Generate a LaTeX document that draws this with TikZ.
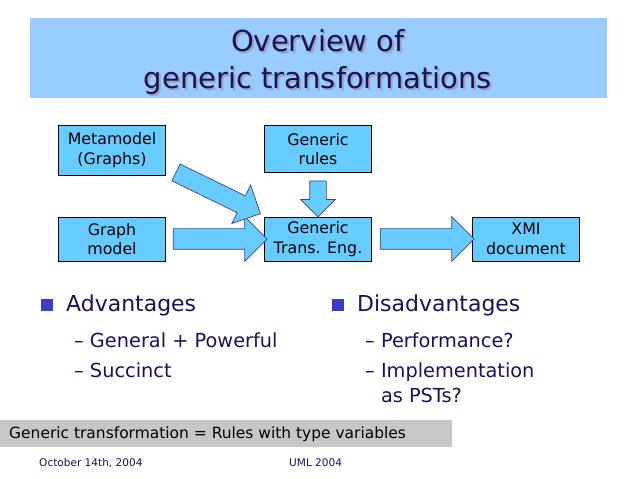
\documentclass[tikz,border=0pt]{standalone}
\usepackage{fontspec}
\setmainfont{DejaVu Sans}
\usetikzlibrary{shapes.arrows,calc}
\definecolor{titlebg}{RGB}{153,204,255}
\definecolor{boxbg}{RGB}{102,204,255}
\definecolor{navy}{RGB}{20,20,90}
\definecolor{bulletblue}{RGB}{60,60,200}
\newlength{\unitpx}\setlength{\unitpx}{0.02cm}
\tikzset{
  blockbox/.style={draw=black,fill=boxbg,minimum width=107\unitpx,minimum height=44\unitpx,align=center,font=\fontsize{9}{11}\selectfont,inner sep=1pt},
  blockarrow/.style={single arrow,draw=navy!80,fill=boxbg,single arrow head extend=12\unitpx,minimum height=#1,inner xsep=0pt,inner ysep=10\unitpx,single arrow head indent=0pt},
}
\begin{document}
\begin{tikzpicture}[x=0.02cm,y=-0.02cm]
\useasboundingbox (0,0) rectangle (638,479);
% title
\fill[titlebg] (30,18) rectangle (607,98);
\node[navy!40,font=\fontsize{16.5}{21}\selectfont,align=center] at (320,64) {Overview of\\generic transformations};
\node[navy,font=\fontsize{16.5}{21}\selectfont,align=center] (title) at (318,62) {Overview of\\generic transformations};
% boxes
\node[blockbox,minimum height=50\unitpx] (meta) at (112,150) {Metamodel\\(Graphs)};
\node[blockbox,minimum height=47\unitpx] (rules) at (318,149) {Generic\\rules};
\node[blockbox] (graph) at (112,239) {Graph\\model};
\node[blockbox] (eng) at (318,239) {Generic\\Trans. Eng.};
\node[blockbox] (xmi) at (526,239) {XMI\\document};
% arrows
\node[blockarrow=94\unitpx] (a1) at ($(graph.east)!0.5!(eng.west)$) {};
\node[blockarrow=94\unitpx] (a2) at ($(eng.east)!0.5!(xmi.west)$) {};
\node[blockarrow=36\unitpx,rotate=-90,inner ysep=8\unitpx,single arrow head extend=9\unitpx] (a3) at ($(rules.south)!0.5!(eng.north)$) {};
\node[blockarrow=94\unitpx,rotate=-26,inner ysep=9\unitpx] (a4) at (214,191) {};
% bullets
\fill[bulletblue] (41,299) rectangle (53,311);
\node[navy,anchor=west,font=\fontsize{12.5}{15}\selectfont] (adv) at (60,305) {Advantages};
\node[navy,anchor=west,font=\fontsize{11}{14}\selectfont] (adv1) at (68,340) {– General + Powerful};
\node[navy,anchor=west,font=\fontsize{11}{14}\selectfont] (adv2) at (68,370) {– Succinct};
\fill[bulletblue] (332,299) rectangle (344,311);
\node[navy,anchor=west,font=\fontsize{12.5}{15}\selectfont] (dis) at (351,305) {Disadvantages};
\node[navy,anchor=west,font=\fontsize{11}{14}\selectfont] (dis1) at (359,340) {– Performance?};
\node[navy,anchor=west,font=\fontsize{11}{14}\selectfont,align=left] (dis2) at (359,383) {– Implementation\\\phantom{– }as PSTs?};
% bottom bar
\fill[black!22] (0,420) rectangle (452,447);
\node[anchor=west,font=\fontsize{8.8}{11}\selectfont] (summary) at (3,434) {Generic transformation = Rules with type variables};
\node[navy,anchor=west,font=\fontsize{6}{8}\selectfont] (date) at (33,463) {October 14th, 2004};
\node[navy,anchor=west,font=\fontsize{6}{8}\selectfont] (conf) at (283,463) {UML 2004};
\end{tikzpicture}
\end{document}
